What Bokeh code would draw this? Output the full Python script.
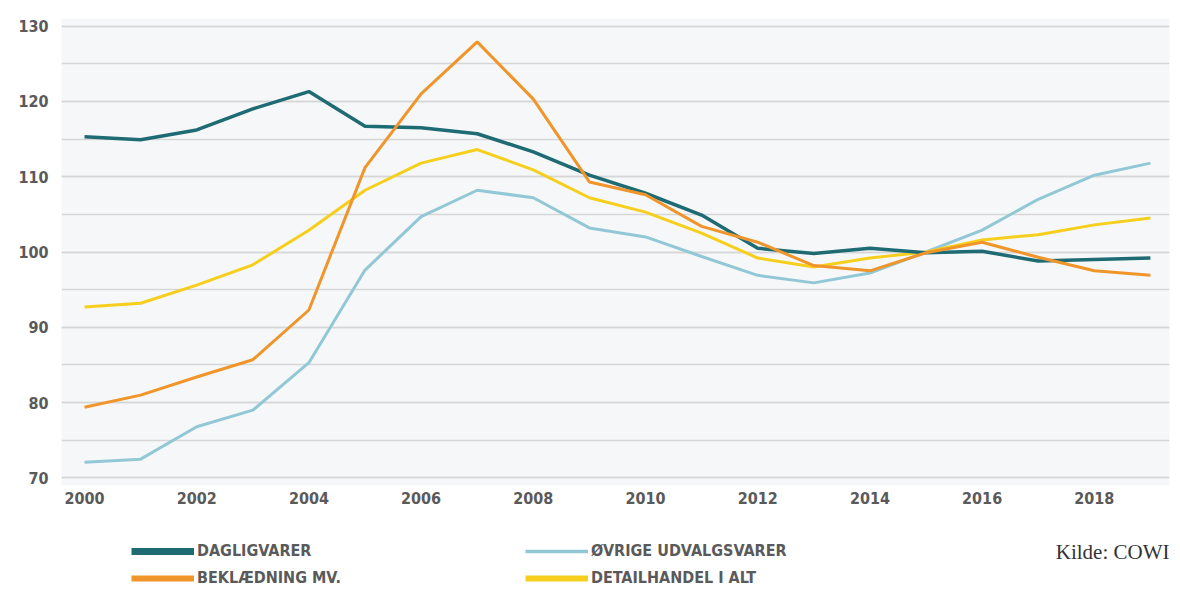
from bokeh.plotting import figure
from bokeh.layouts import column
from bokeh.models import Legend, LegendItem, Label, SingleIntervalTicker, FixedTicker
from bokeh.embed import file_html
from bokeh.resources import INLINE

years = list(range(2000, 2020))
dagligvarer = [115.3, 114.9, 116.2, 119.0, 121.3, 116.7, 116.5, 115.7, 113.3, 110.2,
               107.8, 104.9, 100.5, 99.8, 100.5, 99.9, 100.1, 98.8, 99.0, 99.2]
beklaedning = [79.4, 81.0, 83.4, 85.7, 92.3, 111.2, 121.0, 127.9, 120.3, 109.3,
               107.6, 103.4, 101.3, 98.2, 97.5, 99.9, 101.3, 99.3, 97.5, 96.9]
ovrige = [72.1, 72.5, 76.8, 79.0, 85.3, 97.6, 104.7, 108.2, 107.2, 103.2,
          102.0, 99.4, 96.9, 95.9, 97.2, 100.0, 102.9, 107.0, 110.2, 111.8]
detailhandel = [92.7, 93.2, 95.6, 98.3, 102.9, 108.2, 111.8, 113.6, 110.9, 107.2,
                105.3, 102.5, 99.2, 98.0, 99.2, 100.0, 101.6, 102.3, 103.6, 104.5]
x_ticks = list(range(2000, 2019, 2))
labels = ["DAGLIGVARER", "BEKLÆDNING MV.", "ØVRIGE UDVALGSVARER", "DETAILHANDEL I ALT"]
source_text = "Kilde: COWI"

TEAL = "#1f6b74"
ORANGE = "#f0952a"
LBLUE = "#92c8d6"
YELLOW = "#f6cf1c"
FONT = "DejaVu Sans Condensed, Roboto, sans-serif"

W = 1171
p = figure(width=W, height=512, output_backend="svg", toolbar_location=None,
           x_range=(1999.59, 2019.34), y_range=(69, 131),
           min_border_left=61, min_border_right=2, min_border_top=18, min_border_bottom=27)
p.background_fill_color = "#f6f7f8"
p.border_fill_color = "white"
p.outline_line_color = None

p.line(years, ovrige, line_color=LBLUE, line_width=3)
p.line(years, detailhandel, line_color=YELLOW, line_width=3)
p.line(years, dagligvarer, line_color=TEAL, line_width=3.5)
p.line(years, beklaedning, line_color=ORANGE, line_width=3)

p.xaxis.ticker = FixedTicker(ticks=x_ticks)
p.yaxis.ticker = SingleIntervalTicker(interval=10, num_minor_ticks=2)
for ax in (p.xaxis, p.yaxis):
    ax.axis_line_color = None
    ax.major_tick_line_color = None
    ax.minor_tick_line_color = None
    ax.major_label_text_font = FONT
    ax.major_label_text_font_size = "16px"
    ax.major_label_text_font_style = "bold"
    ax.major_label_text_color = "#5a5a5a"
p.xaxis.major_label_standoff = 0
p.yaxis.major_label_standoff = 7

p.xgrid.grid_line_color = None
p.ygrid.grid_line_color = "#d6d6d6"
p.ygrid.grid_line_width = 1.5
p.ygrid.minor_grid_line_color = "#d6d6d6"
p.ygrid.minor_grid_line_width = 1.5

# legend strip (its frame is aligned with the chart's frame by the column layout)
q = figure(width=W, height=75, output_backend="svg", toolbar_location=None,
           x_range=(0, 1), y_range=(0, 1),
           x_axis_location=None, y_axis_location=None,
           min_border_left=0, min_border_right=0, min_border_top=0, min_border_bottom=0)
q.grid.grid_line_color = None
q.outline_line_color = None
q.background_fill_color = "white"
q.border_fill_color = "white"

# swatch renderers: the series lie outside this strip's ranges, only the legend shows
r1 = q.line(years, dagligvarer, line_color=TEAL, line_width=7)
r2 = q.line(years, beklaedning, line_color=ORANGE, line_width=6)
r3 = q.line(years, ovrige, line_color=LBLUE, line_width=3.5)
r4 = q.line(years, detailhandel, line_color=YELLOW, line_width=6)

legend = Legend(items=[LegendItem(label=labels[0], renderers=[r1]),
                       LegendItem(label=labels[1], renderers=[r2]),
                       LegendItem(label=labels[2], renderers=[r3]),
                       LegendItem(label=labels[3], renderers=[r4])],
                orientation="vertical", ncols=2,
                location=(70, 0),
                glyph_width=63, glyph_height=16, label_standoff=3,
                label_width=320, label_height=16, spacing=8,
                padding=0, margin=0,
                border_line_color=None, background_fill_alpha=0,
                label_text_font=FONT, label_text_font_size="16px",
                label_text_font_style="bold",
                label_text_color="#5a5a5a")
q.add_layout(legend, "center")

q.add_layout(Label(x=1108, y=36, x_units="screen", y_units="screen",
                   text=source_text, text_align="right", text_baseline="middle",
                   text_font="Liberation Serif", text_font_size="21px",
                   text_color="#333333"))

layout = column(p, q, spacing=0)
open("out.html", "w").write(file_html(layout, INLINE))
